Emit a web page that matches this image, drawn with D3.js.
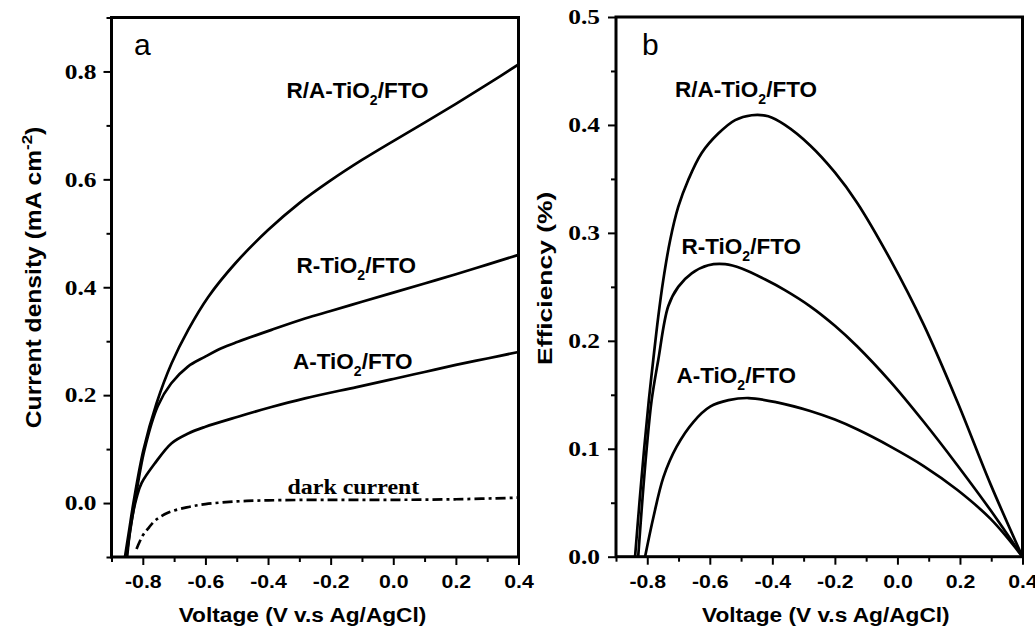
<!DOCTYPE html>
<html>
<head>
<meta charset="utf-8">
<script src="https://cdn.jsdelivr.net/npm/d3@7"></script>
<style>
  html, body { margin: 0; padding: 0; background: #fff; }
  svg { display: block; }
</style>
</head>
<body>
<svg id="chart" width="1035" height="628"></svg>
<script>
// ---------- Panel a: current density vs. potential (mA cm^-2) ----------
const vRA_J = [-0.857, -0.843, -0.830, -0.798, -0.756, -0.708, -0.655, -0.591, -0.505, -0.4, -0.3, -0.2, -0.1, 0.0, 0.1, 0.2, 0.3, 0.4];
const jRA   = [-0.1, -0.048, 0.0, 0.098, 0.185, 0.259, 0.321, 0.382, 0.444, 0.506, 0.556, 0.598, 0.636, 0.671, 0.705, 0.740, 0.776, 0.813];

const vR_J = [-0.853, -0.84, -0.826, -0.795, -0.752, -0.709, -0.656, -0.602, -0.549, -0.496, -0.389, -0.282, -0.2, -0.1, 0.0, 0.1, 0.2, 0.3, 0.4];
const jR   = [-0.1, -0.05, 0.0, 0.098, 0.18, 0.222, 0.253, 0.271, 0.287, 0.299, 0.321, 0.342, 0.356, 0.373, 0.390, 0.407, 0.424, 0.442, 0.46];

const vA_J = [-0.85, -0.838, -0.819, -0.804, -0.761, -0.708, -0.655, -0.602, -0.496, -0.389, -0.282, -0.117, 0.0, 0.1, 0.2, 0.3, 0.4];
const jA   = [-0.1, -0.04, 0.012, 0.037, 0.074, 0.111, 0.129, 0.141, 0.160, 0.178, 0.194, 0.215, 0.230, 0.243, 0.256, 0.268, 0.280];

const vDark = [-0.82, -0.80, -0.78, -0.76, -0.72, -0.66, -0.6, -0.5, -0.4, -0.2, 0.0, 0.2, 0.4];
const jDark = [-0.085, -0.06, -0.045, -0.032, -0.018, -0.008, -0.002, 0.003, 0.005, 0.006, 0.006, 0.007, 0.01];

// ---------- Panel b: photoconversion efficiency (%) ----------
const vRA_E = [-0.839, -0.825, -0.81, -0.795, -0.781, -0.765, -0.749, -0.727, -0.701, -0.669, -0.626, -0.573, -0.519, -0.466, -0.413, -0.36, -0.279, -0.2, -0.129, -0.022, 0.084, 0.191, 0.298, 0.4];
const eRA   = [0, 0.05, 0.1, 0.145, 0.182, 0.222, 0.256, 0.293, 0.324, 0.349, 0.374, 0.392, 0.4045, 0.409, 0.408, 0.400, 0.381, 0.356, 0.328, 0.275, 0.215, 0.144, 0.067, 0];

const vR_E = [-0.829, -0.815, -0.802, -0.786, -0.765, -0.733, -0.701, -0.658, -0.605, -0.551, -0.498, -0.424, -0.36, -0.279, -0.2, -0.129, -0.022, 0.084, 0.191, 0.298, 0.4];
const eR   = [0, 0.055, 0.1, 0.145, 0.182, 0.232, 0.250, 0.2625, 0.270, 0.271, 0.267, 0.257, 0.247, 0.232, 0.214, 0.195, 0.162, 0.125, 0.085, 0.043, 0];

const vA_E = [-0.807, -0.78, -0.748, -0.706, -0.652, -0.599, -0.54, -0.476, -0.385, -0.279, -0.2, -0.129, -0.022, 0.084, 0.191, 0.298, 0.4];
const eA   = [0, 0.037, 0.074, 0.102, 0.125, 0.139, 0.145, 0.147, 0.143, 0.135, 0.127, 0.118, 0.102, 0.084, 0.062, 0.035, 0];

// ---------- Axis ticks ----------
const xMajor  = [-0.8, -0.6, -0.4, -0.2, 0.0, 0.2, 0.4];
const xMinor  = [-0.9, -0.7, -0.5, -0.3, -0.1, 0.1, 0.3];
const yMajorA = [0.0, 0.2, 0.4, 0.6, 0.8];
const yMinorA = [-0.1, 0.1, 0.3, 0.5, 0.7, 0.9];
const yMajorB = [0.0, 0.1, 0.2, 0.3, 0.4, 0.5];
const yMinorB = [0.05, 0.15, 0.25, 0.35, 0.45];

const xTitle = "Voltage (V v.s Ag/AgCl)";
const sans = "'Liberation Sans', Arial, sans-serif";
const serif = "'Liberation Serif', 'Times New Roman', serif";

const fmt = d3.formatLocale({decimal: ".", thousands: ",", grouping: [3], currency: ["", ""], minus: "-"}).format(".1f");
const svg = d3.select("#chart");

const zip = (xs, ys) => xs.map((v, i) => [v, ys[i]]);

function drawPanel(cfg) {
  const x = d3.scaleLinear().domain([-0.9, 0.4]).range([cfg.left, cfg.right]);
  const y = d3.scaleLinear().domain(cfg.yDomain).range([cfg.bottom, cfg.top]);
  const g = svg.append("g");

  // clip for the curves
  const clipId = "clip-" + cfg.id;
  g.append("clipPath").attr("id", clipId).append("rect")
    .attr("x", cfg.left).attr("y", cfg.top)
    .attr("width", cfg.right - cfg.left).attr("height", cfg.bottom - cfg.top);

  // bottom axis: minor then major ticks
  const xMinG = g.append("g").attr("transform", `translate(0,${cfg.bottom})`)
    .call(d3.axisBottom(x).tickValues(xMinor).tickSize(5).tickFormat(""));
  const xMajG = g.append("g").attr("transform", `translate(0,${cfg.bottom})`)
    .call(d3.axisBottom(x).tickValues(xMajor).tickSize(8).tickFormat(fmt));
  xMajG.selectAll("text")
    .attr("y", 31).attr("dy", 0)
    .attr("transform", "scale(1.15,1)")
    .style("font-family", sans).style("font-weight", "bold").style("font-size", "18.5px")
    .attr("fill", "#000");

  // left axis
  const yMinG = g.append("g").attr("transform", `translate(${cfg.left},0)`)
    .call(d3.axisLeft(y).tickValues(cfg.yMinor).tickSize(5).tickFormat(""));
  const yMajG = g.append("g").attr("transform", `translate(${cfg.left},0)`)
    .call(d3.axisLeft(y).tickValues(cfg.yMajor).tickSize(8).tickFormat(fmt));
  yMajG.selectAll("text")
    .attr("x", -cfg.labelGap / 1.27).attr("dy", "0.34em")
    .attr("transform", "scale(1.27,1)")
    .style("font-family", serif).style("font-weight", "bold").style("font-size", "20px")
    .attr("fill", "#000");

  [xMinG, xMajG, yMinG, yMajG].forEach(a => {
    a.select(".domain").remove();
    a.selectAll(".tick line").attr("stroke", "#000").attr("stroke-width", 2);
  });

  // frame
  g.append("rect")
    .attr("x", cfg.left).attr("y", cfg.top)
    .attr("width", cfg.right - cfg.left).attr("height", cfg.bottom - cfg.top)
    .attr("fill", "none").attr("stroke", "#000").attr("stroke-width", 3);

  // curves
  const line = d3.line().x(d => x(d[0])).y(d => y(d[1])).curve(d3.curveCatmullRom.alpha(0.5));
  const cg = g.append("g").attr("clip-path", `url(#${clipId})`);
  cfg.series.forEach(s => {
    cg.append("path")
      .datum(zip(s.v, s.val))
      .attr("d", line)
      .attr("fill", "none")
      .attr("stroke", "#000")
      .attr("stroke-width", 2.7)
      .attr("stroke-linejoin", "round")
      .attr("stroke-dasharray", s.dash || null);
  });

  // x-axis title
  g.append("text")
    .attr("transform", `translate(${cfg.xTitleX},621.5) scale(1.08,1)`)
    .attr("text-anchor", "middle")
    .style("font-family", sans).style("font-weight", "bold").style("font-size", "21px")
    .text(xTitle);

  // panel letter
  g.append("text")
    .attr("x", cfg.letterX).attr("y", 55)
    .style("font-family", sans).style("font-size", "30px")
    .text(cfg.letter);

  return g;
}

// curve label with subscript 2
function addLabel(g, x, y, pre, post) {
  const t = g.append("text").attr("x", x).attr("y", y)
    .style("font-family", sans).style("font-weight", "bold").style("font-size", "22.5px");
  t.append("tspan").text(pre);
  t.append("tspan").attr("dy", 7).style("font-size", "14px").text("2");
  t.append("tspan").attr("dy", -7).text(post);
}

// ---- panel a ----
const gA = drawPanel({
  id: "a", left: 111.5, right: 518.5, top: 17.5, bottom: 557,
  yDomain: [-0.1, 0.9], yMajor: yMajorA, yMinor: yMinorA, labelGap: 15,
  xTitleX: 302.5, letter: "a", letterX: 134,
  series: [
    {v: vRA_J, val: jRA},
    {v: vR_J, val: jR},
    {v: vA_J, val: jA},
    {v: vDark, val: jDark, dash: "10,4,3,4"}
  ]
});
addLabel(gA, 286.5, 98, "R/A-TiO", "/FTO");
addLabel(gA, 296.5, 273, "R-TiO", "/FTO");
addLabel(gA, 293, 368.5, "A-TiO", "/FTO");
gA.append("text")
  .attr("transform", "translate(287.5,493.5) scale(1.14,1)")
  .style("font-family", serif).style("font-weight", "bold").style("font-size", "21px")
  .text("dark current");

// y title panel a
const ytA = gA.append("text")
  .attr("transform", "translate(40.5,277.5) rotate(-90) scale(1.12,1)")
  .attr("text-anchor", "middle")
  .style("font-family", sans).style("font-weight", "bold").style("font-size", "22px");
ytA.append("tspan").text("Current density (mA cm");
ytA.append("tspan").attr("dy", -9).style("font-size", "15px").text("-2");
ytA.append("tspan").attr("dy", 9).text(")");

// ---- panel b ----
const gB = drawPanel({
  id: "b", left: 616, right: 1022.5, top: 17, bottom: 556.7,
  yDomain: [0, 0.5], yMajor: yMajorB, yMinor: yMinorB, labelGap: 16,
  xTitleX: 825.8, letter: "b", letterX: 642,
  series: [
    {v: vRA_E, val: eRA},
    {v: vR_E, val: eR},
    {v: vA_E, val: eA}
  ]
});
addLabel(gB, 675, 97, "R/A-TiO", "/FTO");
addLabel(gB, 681.5, 253.5, "R-TiO", "/FTO");
addLabel(gB, 676.5, 383, "A-TiO", "/FTO");

gB.append("text")
  .attr("transform", "translate(551.5,278.3) rotate(-90) scale(1.26,1)")
  .attr("text-anchor", "middle")
  .style("font-family", sans).style("font-weight", "bold").style("font-size", "21px")
  .text("Efficiency (%)");
</script>
</body>
</html>
